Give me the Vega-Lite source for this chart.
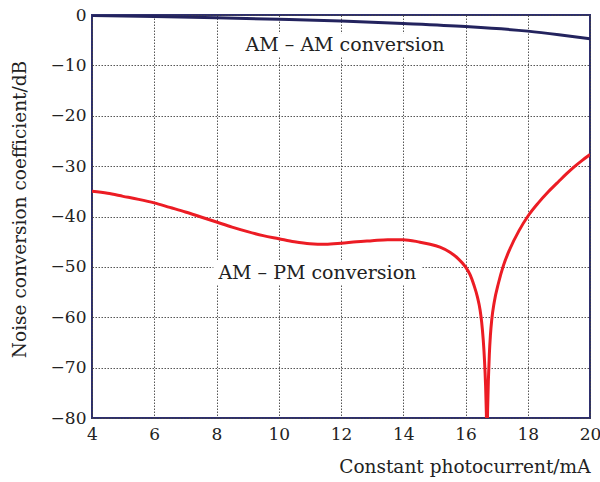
{
  "$schema": "https://vega.github.io/schema/vega-lite/v6.json",
  "autosize": "none",
  "width": 498,
  "height": 403,
  "padding": {"left": 92, "top": 15, "right": 10, "bottom": 64},
  "background": "white",
  "config": {
    "view": {"stroke": "#2e2f6e", "strokeWidth": 2},
    "font": "DejaVu Serif",
    "axis": {
      "domain": false,
      "ticks": false,
      "labelFont": "DejaVu Serif",
      "labelFontSize": 17,
      "labelColor": "#222222",
      "titleFont": "DejaVu Serif",
      "titleFontSize": 18.5,
      "titleFontWeight": "normal",
      "titleColor": "#222222",
      "gridColor": "#444444",
      "gridDash": [1.5, 1.5],
      "gridWidth": 1,
      "gridOpacity": 0.9
    }
  },
  "datasets": {
    "curves": [
      {"series": "AM-AM", "current": 4, "coef": -0.1},
      {"series": "AM-AM", "current": 6, "coef": -0.3},
      {"series": "AM-AM", "current": 8, "coef": -0.55},
      {"series": "AM-AM", "current": 10, "coef": -0.85},
      {"series": "AM-AM", "current": 12, "coef": -1.2},
      {"series": "AM-AM", "current": 14, "coef": -1.7},
      {"series": "AM-AM", "current": 16, "coef": -2.3},
      {"series": "AM-AM", "current": 18, "coef": -3.2},
      {"series": "AM-AM", "current": 19, "coef": -3.9},
      {"series": "AM-AM", "current": 20, "coef": -4.7},
      {"series": "AM-PM", "current": 4, "coef": -35.0},
      {"series": "AM-PM", "current": 4.5, "coef": -35.4},
      {"series": "AM-PM", "current": 5, "coef": -36.0},
      {"series": "AM-PM", "current": 5.5, "coef": -36.6},
      {"series": "AM-PM", "current": 6, "coef": -37.3},
      {"series": "AM-PM", "current": 6.5, "coef": -38.2},
      {"series": "AM-PM", "current": 7, "coef": -39.1},
      {"series": "AM-PM", "current": 7.5, "coef": -40.1},
      {"series": "AM-PM", "current": 8, "coef": -41.1},
      {"series": "AM-PM", "current": 8.5, "coef": -42.1},
      {"series": "AM-PM", "current": 9, "coef": -43.0},
      {"series": "AM-PM", "current": 9.5, "coef": -43.8},
      {"series": "AM-PM", "current": 10, "coef": -44.4},
      {"series": "AM-PM", "current": 10.5, "coef": -45.0},
      {"series": "AM-PM", "current": 11, "coef": -45.4},
      {"series": "AM-PM", "current": 11.5, "coef": -45.5},
      {"series": "AM-PM", "current": 12, "coef": -45.3},
      {"series": "AM-PM", "current": 12.5, "coef": -45.0},
      {"series": "AM-PM", "current": 13, "coef": -44.8},
      {"series": "AM-PM", "current": 13.5, "coef": -44.6},
      {"series": "AM-PM", "current": 14, "coef": -44.6},
      {"series": "AM-PM", "current": 14.54, "coef": -45.1},
      {"series": "AM-PM", "current": 14.86, "coef": -45.5},
      {"series": "AM-PM", "current": 15.18, "coef": -46.1},
      {"series": "AM-PM", "current": 15.5, "coef": -47.1},
      {"series": "AM-PM", "current": 15.77, "coef": -48.4},
      {"series": "AM-PM", "current": 16.0, "coef": -50.0},
      {"series": "AM-PM", "current": 16.15, "coef": -51.6},
      {"series": "AM-PM", "current": 16.27, "coef": -53.6},
      {"series": "AM-PM", "current": 16.38, "coef": -55.9},
      {"series": "AM-PM", "current": 16.47, "coef": -58.6},
      {"series": "AM-PM", "current": 16.52, "coef": -61.0},
      {"series": "AM-PM", "current": 16.57, "coef": -64.5},
      {"series": "AM-PM", "current": 16.61, "coef": -68.5},
      {"series": "AM-PM", "current": 16.645, "coef": -73.5},
      {"series": "AM-PM", "current": 16.67, "coef": -79.0},
      {"series": "AM-PM", "current": 16.69, "coef": -86.0},
      {"series": "AM-PM", "current": 16.71, "coef": -78.5},
      {"series": "AM-PM", "current": 16.735, "coef": -72.5},
      {"series": "AM-PM", "current": 16.765, "coef": -67.5},
      {"series": "AM-PM", "current": 16.8, "coef": -63.6},
      {"series": "AM-PM", "current": 16.845, "coef": -60.4},
      {"series": "AM-PM", "current": 16.92, "coef": -57.1},
      {"series": "AM-PM", "current": 17.06, "coef": -53.2},
      {"series": "AM-PM", "current": 17.22, "coef": -49.7},
      {"series": "AM-PM", "current": 17.43, "coef": -46.4},
      {"series": "AM-PM", "current": 17.72, "coef": -42.8},
      {"series": "AM-PM", "current": 18.02, "coef": -39.8},
      {"series": "AM-PM", "current": 18.34, "coef": -37.3},
      {"series": "AM-PM", "current": 18.66, "coef": -35.1},
      {"series": "AM-PM", "current": 19.0, "coef": -33.0},
      {"series": "AM-PM", "current": 19.25, "coef": -31.5},
      {"series": "AM-PM", "current": 19.5, "coef": -30.1},
      {"series": "AM-PM", "current": 19.75, "coef": -28.85},
      {"series": "AM-PM", "current": 20.0, "coef": -27.7}
    ],
    "labels": [
      {"text": "AM – AM conversion", "current": 12.13, "coef": -5.9, "x1": 8.8, "x2": 15.5, "y1": -3.6, "y2": -8.3},
      {"text": "AM – PM conversion", "current": 11.24, "coef": -51.2, "x1": 7.9, "x2": 14.6, "y1": -48.7, "y2": -53.6}
    ]
  },
  "layer": [
    {
      "data": {"name": "labels"},
      "mark": {"type": "rect", "fill": "white"},
      "encoding": {
        "x": {"field": "x1", "type": "quantitative", "scale": {"domain": [4, 20]}},
        "x2": {"field": "x2"},
        "y": {"field": "y1", "type": "quantitative", "scale": {"domain": [-80, 0]}},
        "y2": {"field": "y2"}
      }
    },
    {
      "data": {"name": "curves"},
      "mark": {"type": "line", "strokeWidth": 3, "clip": true, "interpolate": "monotone"},
      "encoding": {
        "x": {
          "field": "current", "type": "quantitative",
          "scale": {"domain": [4, 20], "nice": false, "zero": false},
          "axis": {
            "values": [4, 6, 8, 10, 12, 14, 16, 18, 20],
            "title": "Constant photocurrent/mA",
            "titleAnchor": "end",
            "titleAlign": "right",
            "titleX": 498,
            "titleY": 54,
            "titleBaseline": "alphabetic",
            "labelPadding": 8,
            "labelFlush": false
          }
        },
        "y": {
          "field": "coef", "type": "quantitative",
          "scale": {"domain": [-80, 0], "nice": false},
          "axis": {
            "values": [0, -10, -20, -30, -40, -50, -60, -70, -80],
            "format": "d",
            "title": "Noise conversion coefficient/dB",
            "titleAngle": -90,
            "titleAlign": "center",
            "titleBaseline": "middle",
            "titleX": -73,
            "titleY": 194,
            "labelPadding": 6,
            "labelFlush": false
          }
        },
        "color": {
          "field": "series", "type": "nominal",
          "scale": {"domain": ["AM-AM", "AM-PM"], "range": ["#23235e", "#ec1c24"]},
          "legend": null
        }
      }
    },
    {
      "data": {"name": "labels"},
      "mark": {"type": "text", "font": "DejaVu Serif", "fontSize": 19, "color": "#222222", "align": "center", "baseline": "middle"},
      "encoding": {
        "x": {"field": "current", "type": "quantitative"},
        "y": {"field": "coef", "type": "quantitative"},
        "text": {"field": "text"}
      }
    }
  ]
}
